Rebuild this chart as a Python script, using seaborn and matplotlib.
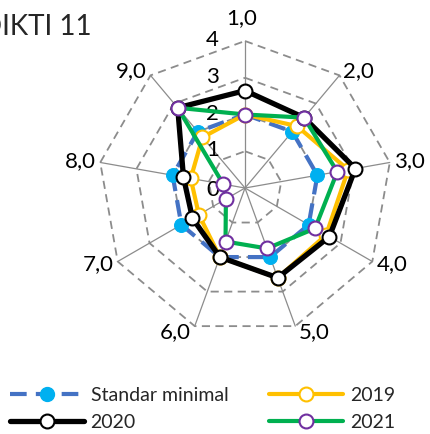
import numpy as np
import pandas as pd
import matplotlib
matplotlib.use("Agg")
import matplotlib.pyplot as plt
import matplotlib.transforms as mtransforms
from matplotlib.lines import Line2D
import seaborn as sns

# data
kategori = ['1,0', '2,0', '3,0', '4,0', '5,0', '6,0', '7,0', '8,0', '9,0']
standar_minimal = [2.0, 2.0, 2.0, 2.0, 2.0, 2.0, 2.0, 2.0, 2.0]
nilai_2019 = [2.0, 2.2, 2.85, 2.55, 2.6, 2.0, 1.45, 1.5, 1.8]
nilai_2020 = [2.65, 2.5, 3.05, 2.65, 2.6, 2.0, 1.65, 1.7, 2.85]
nilai_2021 = [2.0, 2.5, 2.55, 2.2, 1.75, 1.55, 0.6, 0.6, 2.85]
ticks_r = [0, 1, 2, 3, 4]

sns.set_theme(style='white')
plt.rcParams['font.family'] = ['Lato', 'DejaVu Sans']

n = len(kategori)
sudut = np.linspace(0, 2 * np.pi, n, endpoint=False)
sudut_tutup = np.append(sudut, 2 * np.pi)

fig = plt.figure(figsize=(4.31, 4.34), dpi=100)
ax = fig.add_axes([98 / 431, 99 / 434, 294 / 431, 294 / 434], projection='polar')
ax.set_theta_zero_location('N')
ax.set_theta_direction(-1)
ax.set_ylim(0, 4)
ax.grid(False)
ax.spines['polar'].set_visible(False)
ax.set_facecolor('none')

# grid poligon putus-putus
for r in ticks_r[1:]:
    ax.plot(sudut_tutup, [r] * (n + 1), color='#8c8c8c', lw=1.3,
            ls=(0, (4.5, 3)), clip_on=False, zorder=1)
# jari-jari
for t in sudut:
    ax.plot([t, t], [0, 4], color='#8c8c8c', lw=0.9, clip_on=False, zorder=1)

# label radial
for r in ticks_r:
    off = mtransforms.offset_copy(ax.transData, fig=fig, x=-26, y=-2 if r == 0 else 1,
                                  units='dots')
    ax.text(0, r, str(r), transform=off, ha='right', va='center',
            fontsize=16, color='black')

# label kategori
for t, lab in zip(sudut, kategori):
    s, c = np.sin(t), np.cos(t)
    if abs(s) < 0.1:
        ha, dx, dy = 'center', -3, 23
    elif s > 0:
        ha, dx, dy = 'left', 4, 6 * c
    else:
        ha, dx, dy = 'right', -4, 6 * c
    off = mtransforms.offset_copy(ax.transData, fig=fig, x=dx, y=dy, units='dots')
    ax.text(t, 4, lab, transform=off, ha=ha, va='center', fontsize=16,
            color='black', clip_on=False)

def tutup(v):
    return list(v) + [v[0]]

gaya = [
    ('Standar minimal', standar_minimal, dict(color='#4472C4', lw=3, ls=(0, (4, 2.2)),
                                               mfc='#00B0F0', mec='#00B0F0', ms=10)),
    ('2019', nilai_2019, dict(color='#FFC000', lw=3, mfc='white', mec='#FFC000', ms=10, mew=1.5)),
    ('2020', nilai_2020, dict(color='black', lw=3.8, mfc='white', mec='black', ms=10, mew=1.5)),
    ('2021', nilai_2021, dict(color='#00B050', lw=3, mfc='white', mec='#7030A0', ms=10, mew=1.5)),
]

handles = {}
for i, (nama, nilai, kw) in enumerate(gaya):
    df = pd.DataFrame({'sudut': sudut_tutup, 'nilai': tutup(nilai)})
    sns.lineplot(data=df, x='sudut', y='nilai', sort=False, estimator=None, ax=ax,
                 marker='o', legend=False, zorder=3 + i, clip_on=False,
                 markevery=list(range(n)), **kw)
    handles[nama] = Line2D([], [], marker='o', **kw)

ax.set_xlabel('')
ax.set_ylabel('')
ax.set_xticks([])
ax.set_yticks([])

urutan = ['Standar minimal', '2020', '2019', '2021']
fig.legend([handles[k] for k in urutan], urutan, ncol=2, loc='upper left',
           bbox_to_anchor=(6 / 431, 1 - 383 / 434), frameon=False, fontsize=14,
           handlelength=3.8, handletextpad=0.35, columnspacing=2.1,
           labelspacing=0.5, borderpad=0.2, borderaxespad=0.0)

fig.text(92 / 431, 1 - 27 / 434, 'DIKTI 11', ha='right', va='center', fontsize=20)

fig.savefig('out.png', dpi=100)
